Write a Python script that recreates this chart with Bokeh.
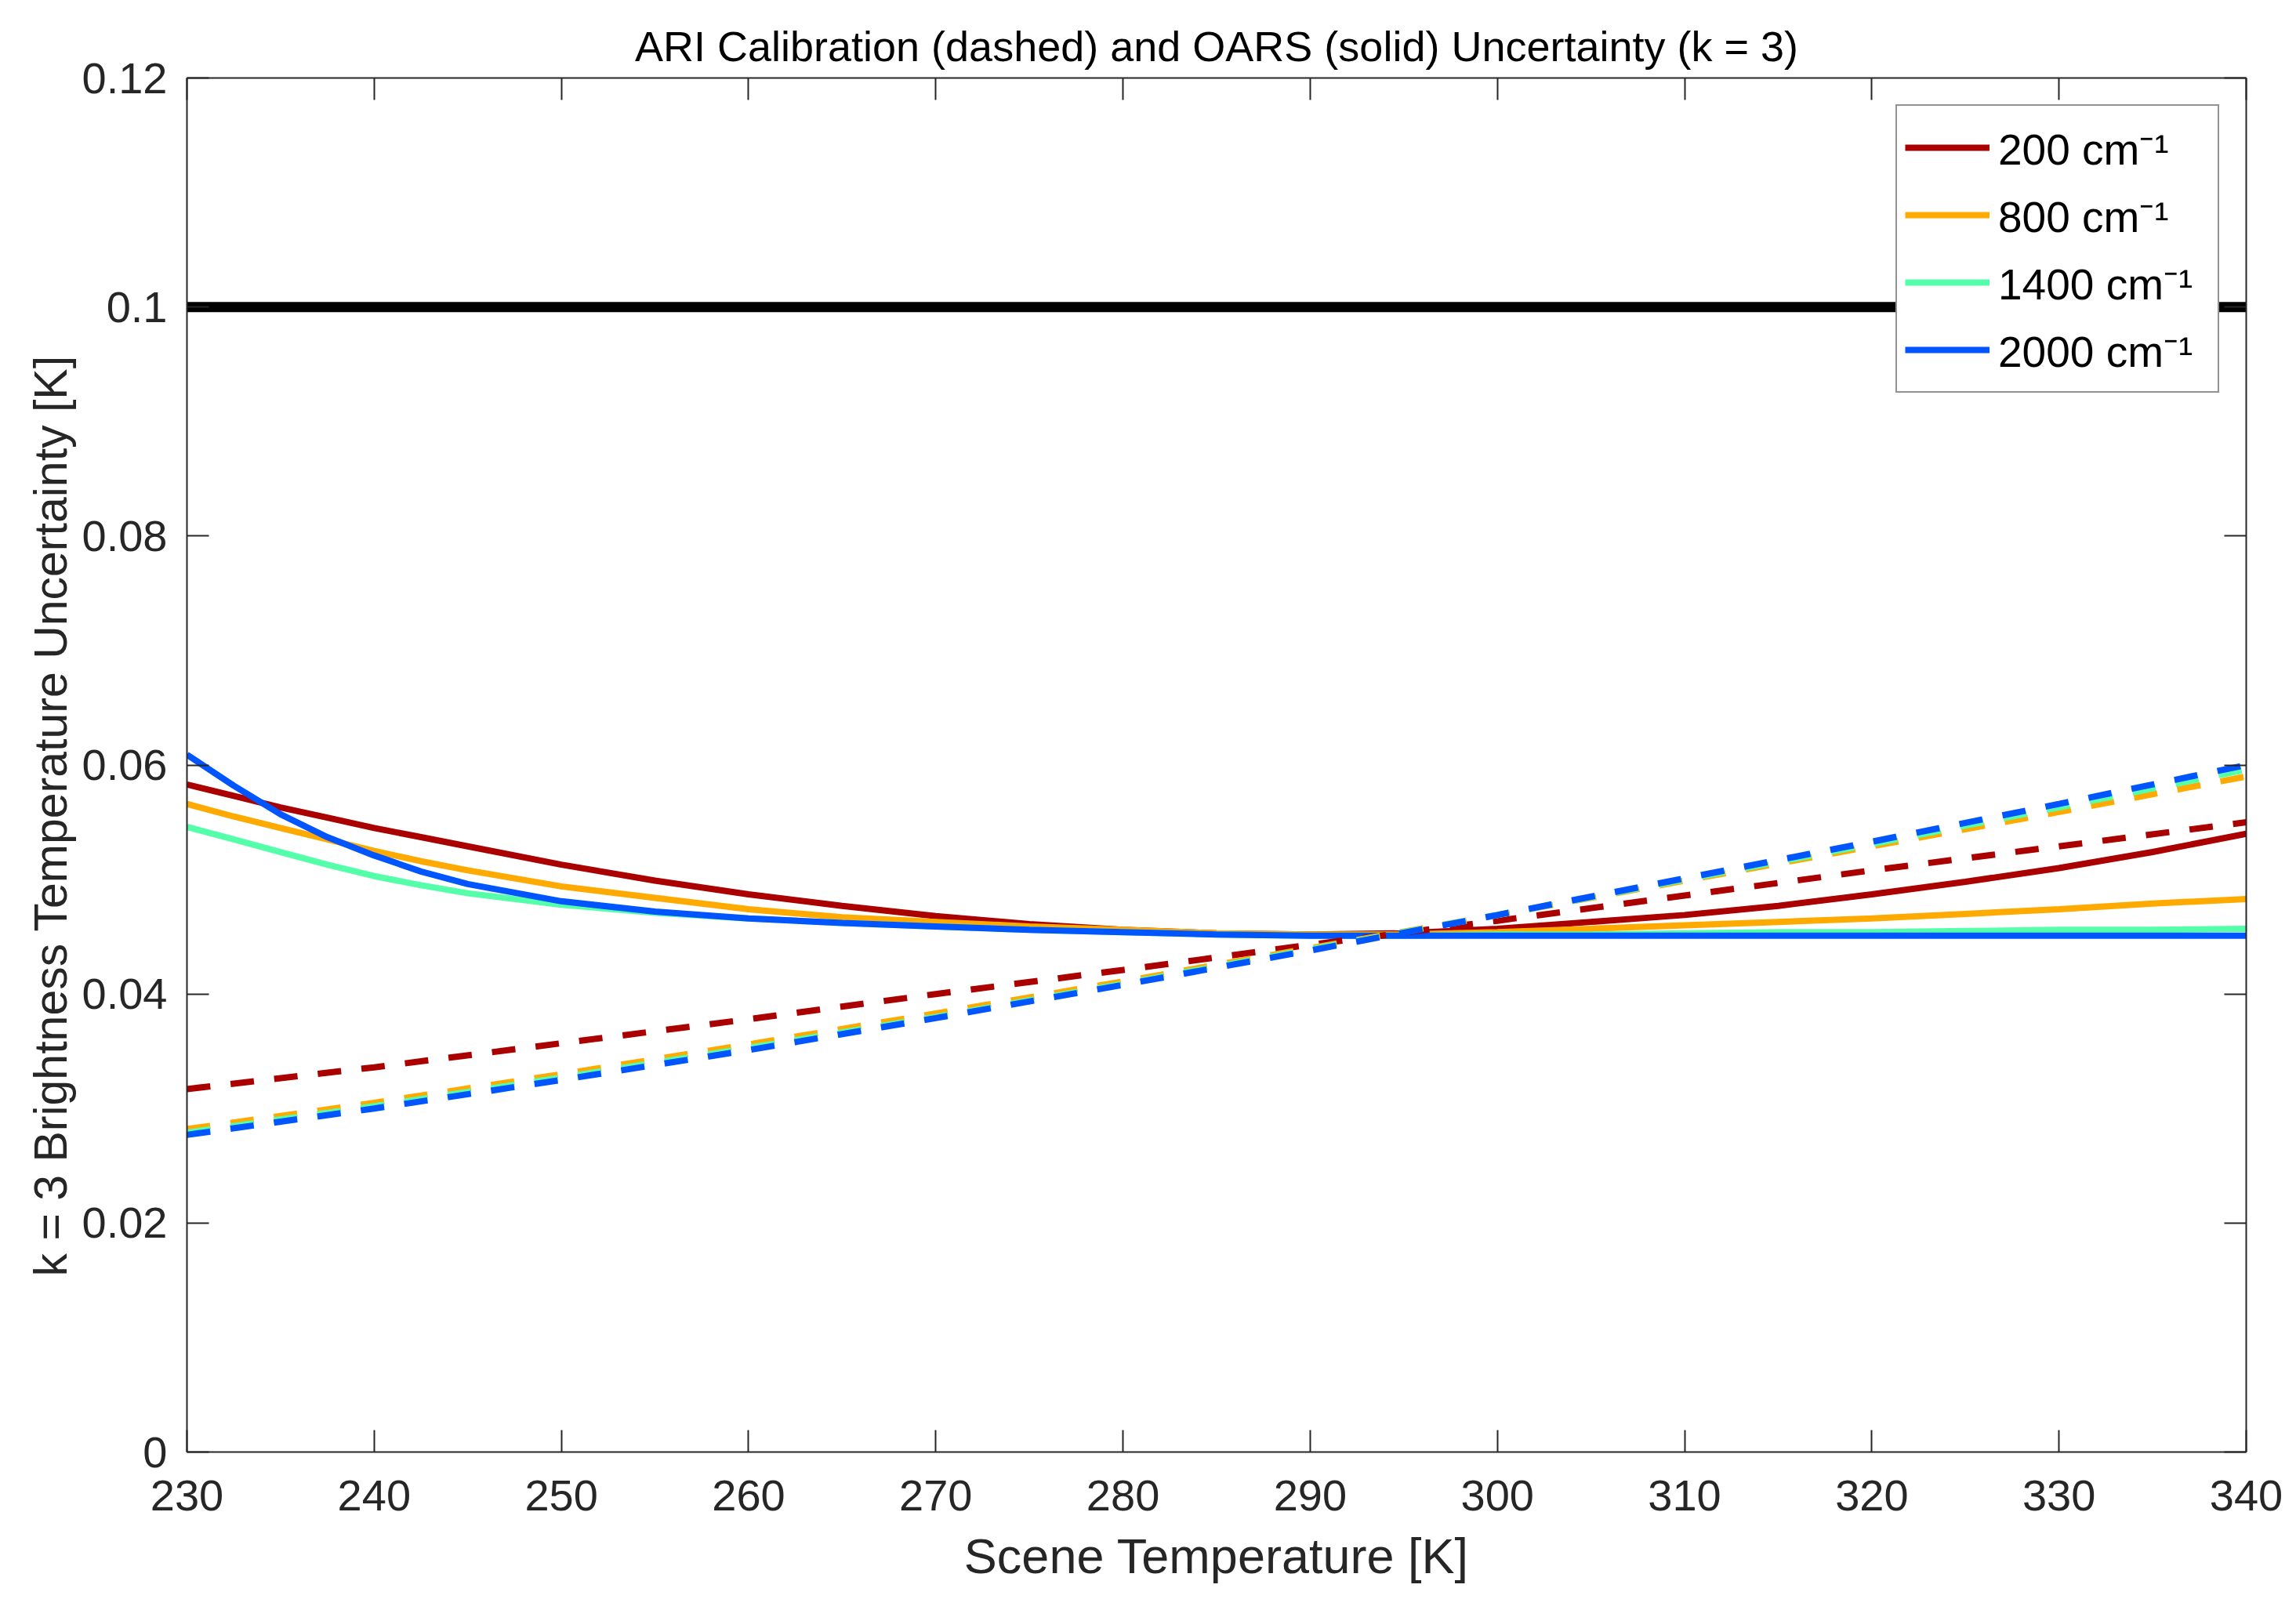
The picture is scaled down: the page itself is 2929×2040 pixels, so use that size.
from bokeh.plotting import figure
from bokeh.models import LinearAxis, FixedTicker, Legend, LegendItem, Range1d, CustomJSTickFormatter, Title
from bokeh.embed import file_html
from bokeh.resources import INLINE

# ---------------- data ----------------
wavenumber_labels = ["200 cm\u207b\u00b9", "800 cm\u207b\u00b9", "1400 cm\u207b\u00b9", "2000 cm\u207b\u00b9"]
series_colors = ["#AA0000", "#FFAA00", "#55FFAA", "#0055FF"]

# OARS uncertainty (solid)
T_solid = [230, 232.5, 235, 237.5, 240, 242.5, 245, 250, 255, 260, 265, 270, 275,
           280, 285, 290, 295, 300, 305, 310, 315, 320, 325, 330, 335, 340]
oars_200 = [0.0583, 0.0573, 0.0563, 0.0554, 0.0545, 0.0537, 0.0529, 0.0513, 0.0499, 0.0487,
            0.0477, 0.0468, 0.0461, 0.0456, 0.0453, 0.0452, 0.0453, 0.0457, 0.0463, 0.0469,
            0.0477, 0.0487, 0.0498, 0.0510, 0.0524, 0.0540]
oars_800 = [0.0566, 0.0555, 0.0545, 0.0535, 0.0525, 0.0516, 0.0508, 0.0494, 0.0484, 0.0474,
            0.0467, 0.0463, 0.0459, 0.0456, 0.0453, 0.0452, 0.0452, 0.0454, 0.0457, 0.0460,
            0.0463, 0.0466, 0.0470, 0.0474, 0.0479, 0.0483]
oars_1400 = [0.0546, 0.0535, 0.0524, 0.0513, 0.0503, 0.0495, 0.0488, 0.0478, 0.0471, 0.0466,
             0.0462, 0.0459, 0.0456, 0.0454, 0.0452, 0.0451, 0.0451, 0.0452, 0.0452, 0.0453,
             0.0454, 0.0454, 0.0455, 0.0456, 0.0456, 0.0457]
oars_2000 = [0.0609, 0.0582, 0.0557, 0.0537, 0.0521, 0.0507, 0.0496, 0.0481, 0.0472, 0.0466,
             0.0462, 0.0459, 0.0456, 0.0454, 0.0452, 0.0451, 0.0451, 0.0451, 0.0451, 0.0451,
             0.0451, 0.0451, 0.0451, 0.0451, 0.0451, 0.0451]

# ARI calibration uncertainty (dashed)
T_dash = [230, 240, 250, 260, 270, 280, 290, 300, 310, 320, 330, 340]
ari_200 = [0.0317, 0.0336, 0.0357, 0.0378, 0.0400, 0.0421, 0.0443, 0.0464, 0.0486, 0.0508, 0.0529, 0.0550]
ari_800 = [0.0282, 0.0305, 0.0330, 0.0356, 0.0383, 0.0411, 0.0440, 0.0469, 0.0499, 0.0529, 0.0559, 0.0590]
ari_1400 = [0.0279, 0.0302, 0.0327, 0.0353, 0.0380, 0.0409, 0.0439, 0.0469, 0.0500, 0.0531, 0.0563, 0.0596]
ari_2000 = [0.0277, 0.0300, 0.0325, 0.0351, 0.0379, 0.0408, 0.0438, 0.0469, 0.0501, 0.0533, 0.0566, 0.0600]

# requirement line
req_T = [230, 340]
req_U = [0.1, 0.1]

x_ticks = [230, 240, 250, 260, 270, 280, 290, 300, 310, 320, 330, 340]
y_ticks = [0, 0.02, 0.04, 0.06, 0.08, 0.1, 0.12]
y_tick_labels = ["0", "0.02", "0.04", "0.06", "0.08", "0.1", "0.12"]

title_text = "ARI Calibration (dashed) and OARS (solid) Uncertainty (k = 3)"
x_label = "Scene Temperature [K]"
y_label = "k = 3 Brightness Temperature Uncertainty [K]"

# ---------------- figure ----------------
FONT = "Liberation Sans"
AX = "#262626"
W, H = 2928, 2038
FL, FT, FW, FH = 238, 99, 2627, 1753

p = figure(width=W, height=H, output_backend="svg", toolbar_location=None,
           x_range=Range1d(230, 340), y_range=Range1d(0, 0.12),
           x_axis_location=None, y_axis_location=None,
           min_border_left=FL, min_border_right=W - FL - FW,
           min_border_top=FT, min_border_bottom=H - FT - FH)
p.grid.visible = False
p.outline_line_color = None
p.background_fill_color = "white"
p.border_fill_color = "white"

p.title.text = title_text
p.title.align = "center"
p.title.text_font = FONT
p.title.text_font_size = "54px"
p.title.text_font_style = "normal"
p.title.text_color = "#000000"
p.title.standoff = 21


def style_axis(ax, show_labels):
    ax.axis_line_color = AX
    ax.axis_line_width = 2
    ax.major_tick_line_color = AX
    ax.major_tick_line_width = 2
    ax.major_tick_in = 28
    ax.major_tick_out = 0
    ax.minor_tick_line_color = None
    ax.major_label_text_font = FONT
    ax.major_label_text_font_size = "56px"
    ax.major_label_text_color = AX
    ax.axis_label_text_font = FONT
    ax.axis_label_text_font_size = "63px"
    ax.axis_label_text_font_style = "normal"
    ax.axis_label_text_color = AX
    if not show_labels:
        ax.formatter = CustomJSTickFormatter(code="return ''")
        ax.major_label_standoff = 0


xb = LinearAxis(ticker=FixedTicker(ticks=x_ticks), axis_label=x_label)
style_axis(xb, True)
xb.major_label_standoff = 36
xb.axis_label_standoff = 20
p.add_layout(xb, "below")

yl = LinearAxis(ticker=FixedTicker(ticks=y_ticks))
style_axis(yl, True)
yl.major_label_overrides = dict(zip(y_ticks, y_tick_labels))
yl.major_label_standoff = 25
p.add_layout(yl, "left")

ylab = Title(text=y_label, align="left", offset=224, standoff=8,
             text_font=FONT, text_font_size="59px", text_font_style="normal", text_color=AX)
p.add_layout(ylab, "left")

xt = LinearAxis(ticker=FixedTicker(ticks=x_ticks))
style_axis(xt, False)
p.add_layout(xt, "above")

yr = LinearAxis(ticker=FixedTicker(ticks=y_ticks))
style_axis(yr, False)
p.add_layout(yr, "right")

# requirement line
p.line(req_T, req_U, line_color="black", line_width=13)

solid_series = [oars_200, oars_800, oars_1400, oars_2000]
dash_series = [ari_200, ari_800, ari_1400, ari_2000]

solid_renderers = []
for ys, c in zip(solid_series, series_colors):
    r = p.line(T_solid, ys, line_color=c, line_width=8)
    solid_renderers.append(r)
for ys, c in zip(dash_series, series_colors):
    p.line(T_dash, ys, line_color=c, line_width=8, line_dash="30 26")

legend = Legend(items=[LegendItem(label=lab, renderers=[r]) for lab, r in zip(wavenumber_labels, solid_renderers)],
                location="top_right")
legend.margin = 34
legend.padding = 10
legend.spacing = 0
legend.label_height = 86
legend.glyph_height = 86
legend.glyph_width = 108
legend.label_standoff = 11
legend.label_width = 270
legend.label_text_font = FONT
legend.label_text_font_size = "55px"
legend.label_text_color = "#000000"
legend.border_line_color = AX
legend.border_line_width = 2
legend.background_fill_color = "white"
legend.background_fill_alpha = 1.0
p.add_layout(legend)

open("out.html", "w").write(file_html(p, INLINE))
